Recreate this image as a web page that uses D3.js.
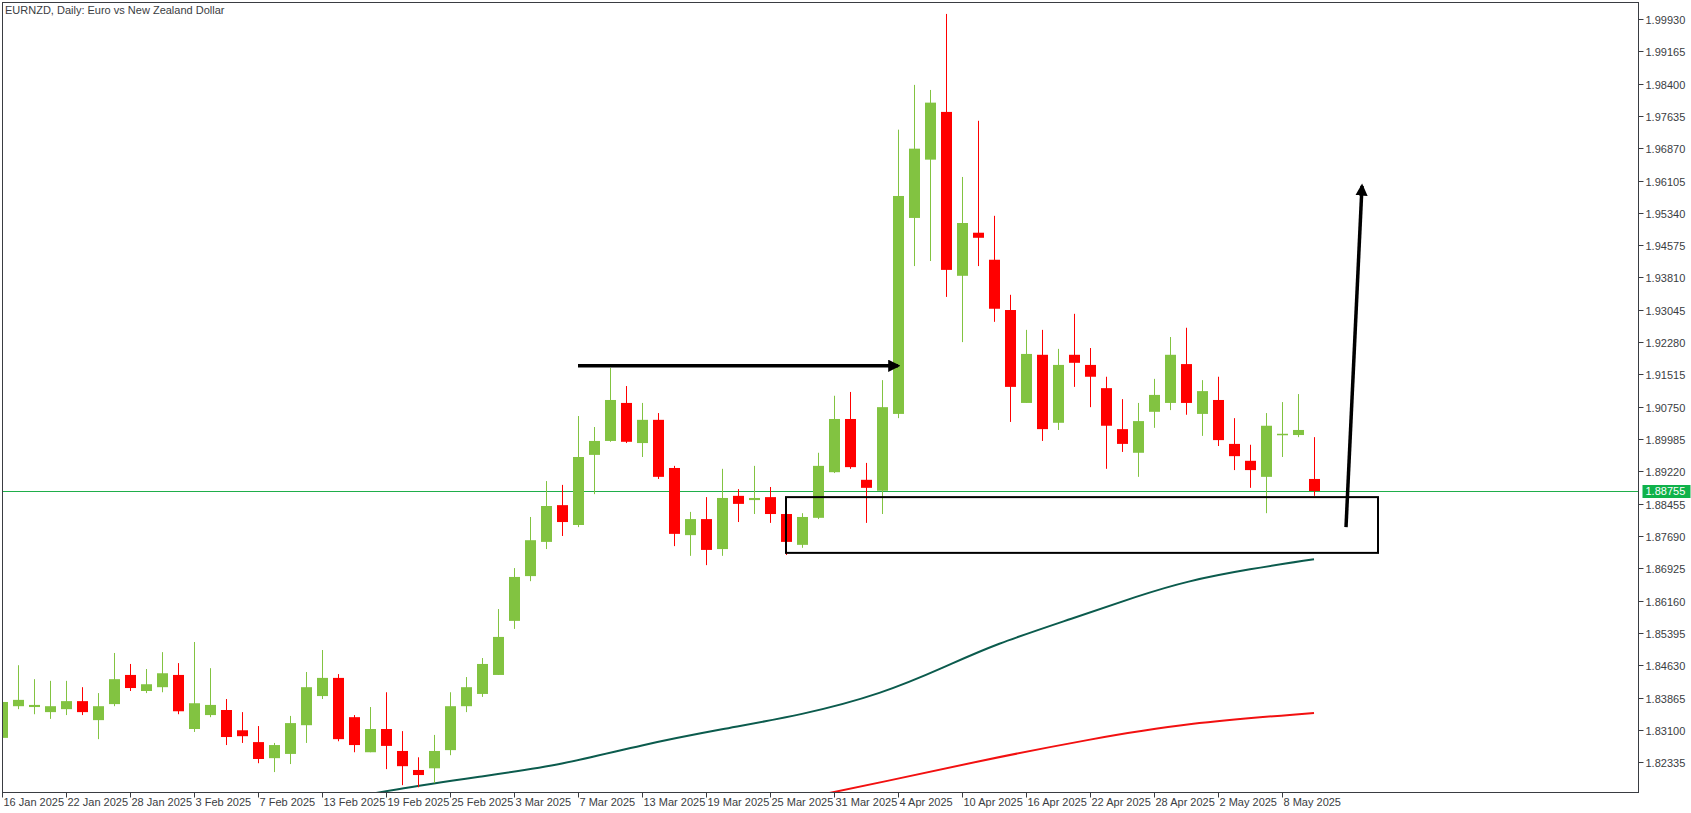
<!DOCTYPE html>
<html>
<head>
<meta charset="utf-8">
<script src="https://cdn.jsdelivr.net/npm/d3@7"></script>
<style>
  html, body { margin: 0; padding: 0; background: #fff; }
  svg { display: block; }
  text { font-family: "Liberation Sans", Arial, sans-serif; }
</style>
</head>
<body>
<div id="container"></div>
<script>
// EURNZD daily candles, 16 Jan 2025 .. 12 May 2025
// [open, high, low, close]
const candles = [
  [1.8291,1.8381,1.8286,1.8376],[1.8366,1.8463,1.8359,1.8381],[1.8364,1.8430,1.8347,1.8369],[1.8352,1.8426,1.8336,1.8366],
  [1.8359,1.8426,1.8345,1.8378],[1.8378,1.8411,1.8345,1.8352],[1.8333,1.8397,1.8288,1.8366],[1.8371,1.8492,1.8366,1.8430],
  [1.8440,1.8466,1.8402,1.8409],[1.8402,1.8454,1.8397,1.8418],[1.8411,1.8494,1.8399,1.8444],[1.8440,1.8468,1.8347,1.8354],
  [1.8312,1.8518,1.8305,1.8373],[1.8345,1.8456,1.8340,1.8369],[1.8357,1.8383,1.8274,1.8293],[1.8309,1.8352,1.8279,1.8295],
  [1.8281,1.8319,1.8231,1.8241],[1.8243,1.8279,1.8210,1.8274],[1.8253,1.8343,1.8229,1.8326],[1.8321,1.8447,1.8279,1.8411],
  [1.8390,1.8499,1.8383,1.8433],[1.8433,1.8442,1.8283,1.8288],[1.8340,1.8345,1.8257,1.8274],[1.8257,1.8364,1.8257,1.8312],
  [1.8312,1.8399,1.8217,1.8272],[1.8260,1.8307,1.8179,1.8224],[1.8215,1.8245,1.8174,1.8203],[1.8219,1.8298,1.8184,1.8260],
  [1.8262,1.8399,1.8250,1.8366],[1.8366,1.8435,1.8352,1.8411],[1.8395,1.8480,1.8388,1.8466],[1.8440,1.8596,1.8440,1.8530],
  [1.8568,1.8693,1.8549,1.8672],[1.8674,1.8814,1.8662,1.8759],[1.8755,1.8899,1.8738,1.8840],[1.8842,1.8890,1.8769,1.8802],
  [1.8795,1.9053,1.8790,1.8956],[1.8961,1.9027,1.8868,1.8994],[1.8994,1.9167,1.8992,1.9091],[1.9084,1.9124,1.8989,1.8992],
  [1.8989,1.9084,1.8956,1.9044],[1.9044,1.9060,1.8904,1.8909],[1.8930,1.8935,1.8745,1.8774],[1.8771,1.8826,1.8722,1.8809],
  [1.8809,1.8861,1.8700,1.8736],[1.8738,1.8928,1.8722,1.8859],[1.8864,1.8880,1.8802,1.8845],[1.8854,1.8935,1.8821,1.8859],
  [1.8861,1.8885,1.8800,1.8821],[1.8821,1.8821,1.8724,1.8755],[1.8748,1.8823,1.8741,1.8814],[1.8812,1.8966,1.8809,1.8935],
  [1.8920,1.9101,1.8918,1.9046],[1.9046,1.9110,1.8928,1.8932],[1.8902,1.8942,1.8800,1.8883],[1.8876,1.9138,1.8821,1.9074],
  [1.9058,1.9731,1.9048,1.9574],[1.9522,1.9837,1.9408,1.9686],[1.9660,1.9825,1.9420,1.9795],[1.9773,2.0005,1.9335,1.9399],
  [1.9385,1.9619,1.9228,1.9510],[1.9487,1.9752,1.9408,1.9475],[1.9423,1.9527,1.9276,1.9307],[1.9304,1.9340,1.9039,1.9122],
  [1.9084,1.9257,1.9084,1.9200],[1.9198,1.9257,1.8994,1.9022],[1.9037,1.9212,1.9020,1.9174],[1.9198,1.9295,1.9122,1.9179],
  [1.9174,1.9214,1.9074,1.9146],[1.9119,1.9146,1.8928,1.9030],[1.9022,1.9093,1.8968,1.8987],[1.8966,1.9084,1.8909,1.9041],
  [1.9063,1.9141,1.9025,1.9103],[1.9084,1.9240,1.9067,1.9198],[1.9176,1.9262,1.9056,1.9084],[1.9058,1.9138,1.9006,1.9112],
  [1.9091,1.9146,1.8982,1.8996],[1.8987,1.9048,1.8925,1.8958],[1.8947,1.8985,1.8883,1.8925],[1.8909,1.9060,1.8823,1.9030],
  [1.9010,1.9086,1.8956,1.9011],[1.9008,1.9105,1.9003,1.9020],[1.8904,1.9003,1.8864,1.88755]
];

// x-axis labels, one every 4 bars starting at bar 0
const dateLabels = ['16 Jan 2025','22 Jan 2025','28 Jan 2025','3 Feb 2025','7 Feb 2025','13 Feb 2025','19 Feb 2025',
  '25 Feb 2025','3 Mar 2025','7 Mar 2025','13 Mar 2025','19 Mar 2025','25 Mar 2025','31 Mar 2025','4 Apr 2025',
  '10 Apr 2025','16 Apr 2025','22 Apr 2025','28 Apr 2025','2 May 2025','8 May 2025'];

// price axis labels
const priceTicks = [1.99930,1.99165,1.98400,1.97635,1.96870,1.96105,1.95340,1.94575,1.93810,1.93045,1.92280,
  1.91515,1.90750,1.89985,1.89220,1.88455,1.87690,1.86925,1.86160,1.85395,1.84630,1.83865,1.83100,1.82335];

// moving averages, sampled [bar index, value]
const maSlowIdx = [22, 24, 30, 35, 40, 45, 50, 55, 59, 62, 67, 71, 74, 78, 82];
const maSlowVal = [1.8150, 1.8166, 1.8200, 1.8227, 1.8275, 1.8312, 1.8345, 1.8395, 1.8460, 1.8512, 1.8575, 1.8627, 1.8662, 1.8691, 1.8714];
const maRedIdx = [51, 55, 61, 68, 74, 82];
const maRedVal = [1.8155, 1.8186, 1.8236, 1.8288, 1.8326, 1.8350];

const lastPrice = 1.88755;

// drawn objects
const hArrow = { from: 36, to: 56, price: 1.9172 };
const zoneBox = { from: 49, to: 86, top: 1.8861, bottom: 1.8729 };
const upArrow = { from: [84, 1.8790], to: [85, 1.9598] };

//_____ LAYOUT _____
const W = 1691, H = 813;
const plot = { left: 2, top: 2, right: 1638, bottom: 792 };
const barStep = 16, bodyW = 11;

const x = d3.scaleLinear().domain([0, 1]).range([2, 2 + barStep]);
const y = d3.scaleLinear().domain([1.88755, 1.99930]).range([491, 19]);

const svg = d3.select('#container').append('svg')
  .attr('width', W).attr('height', H);

const defs = svg.append('defs');
defs.append('clipPath').attr('id', 'clip')
  .append('rect')
  .attr('x', plot.left).attr('y', plot.top)
  .attr('width', plot.right - plot.left).attr('height', plot.bottom - plot.top);

const g = svg.append('g').attr('clip-path', 'url(#clip)');

const GREEN = '#82c341', RED = '#ff0000';

//_____ LAST PRICE LINE _____
g.append('line')
  .attr('x1', plot.left).attr('x2', plot.right)
  .attr('y1', Math.round(y(lastPrice)) + 0.5).attr('y2', Math.round(y(lastPrice)) + 0.5)
  .attr('stroke', '#1fae4a').attr('stroke-width', 1);

//_____ MOVING AVERAGES _____
const line = d3.line().x(d => x(d[0])).y(d => y(d[1])).curve(d3.curveBasis);
g.append('path')
  .attr('d', line(maSlowIdx.map((d, i) => [d, maSlowVal[i]])))
  .attr('fill', 'none').attr('stroke', '#0b5b4d').attr('stroke-width', 2);
g.append('path')
  .attr('d', line(maRedIdx.map((d, i) => [d, maRedVal[i]])))
  .attr('fill', 'none').attr('stroke', '#f21010').attr('stroke-width', 2);

//_____ CANDLES _____
const c = g.selectAll('.candle').data(candles).enter().append('g').attr('class', 'candle');
c.append('line')
  .attr('x1', (d, i) => x(i) + 0.5).attr('x2', (d, i) => x(i) + 0.5)
  .attr('y1', d => y(d[1])).attr('y2', d => y(d[2]))
  .attr('stroke', d => d[3] >= d[0] ? GREEN : RED).attr('stroke-width', 1);
c.append('rect')
  .attr('x', (d, i) => x(i) - (bodyW - 1) / 2)
  .attr('width', bodyW)
  .attr('y', d => y(Math.max(d[0], d[3])))
  .attr('height', d => Math.max(1.5, Math.abs(y(d[0]) - y(d[3]))))
  .attr('fill', d => d[3] >= d[0] ? GREEN : RED);

//_____ ANNOTATIONS _____
defs.append('marker')
  .attr('id', 'head').attr('viewBox', '0 0 10 10')
  .attr('refX', 8).attr('refY', 5)
  .attr('markerWidth', 3.5).attr('markerHeight', 3.5)
  .attr('orient', 'auto')
  .append('path').attr('d', 'M0,0 L10,5 L0,10 Z').attr('fill', '#000');

g.append('line')
  .attr('x1', x(hArrow.from)).attr('x2', x(hArrow.to))
  .attr('y1', y(hArrow.price)).attr('y2', y(hArrow.price))
  .attr('stroke', '#000').attr('stroke-width', 3.5)
  .attr('marker-end', 'url(#head)');

g.append('rect')
  .attr('x', x(zoneBox.from)).attr('y', y(zoneBox.top))
  .attr('width', x(zoneBox.to) - x(zoneBox.from))
  .attr('height', y(zoneBox.bottom) - y(zoneBox.top))
  .attr('fill', 'none').attr('stroke', '#000').attr('stroke-width', 2);

g.append('line')
  .attr('x1', x(upArrow.from[0])).attr('y1', y(upArrow.from[1]))
  .attr('x2', x(upArrow.to[0])).attr('y2', y(upArrow.to[1]))
  .attr('stroke', '#000').attr('stroke-width', 3.5)
  .attr('marker-end', 'url(#head)');

//_____ FRAME _____
svg.append('rect')
  .attr('x', plot.left + 0.5).attr('y', plot.top + 0.5)
  .attr('width', plot.right - plot.left).attr('height', plot.bottom - plot.top)
  .attr('fill', 'none').attr('stroke', '#3a3d42').attr('stroke-width', 1);

//_____ PRICE AXIS _____
const ya = svg.append('g').attr('transform', `translate(${plot.right + 0.5},0)`);
priceTicks.forEach(p => {
  const yy = Math.round(y(p)) + 0.5;
  ya.append('line').attr('x1', 0).attr('x2', 5).attr('y1', yy).attr('y2', yy).attr('stroke', '#3a3d42');
  ya.append('text').attr('x', 7).attr('y', yy + 4)
    .attr('font-size', 11).attr('fill', '#3a3d42').text(p.toFixed(5));
});
const ly = Math.round(y(lastPrice));
ya.append('rect').attr('x', 4).attr('y', ly - 6).attr('width', 48).attr('height', 13).attr('fill', '#0fb24a');
ya.append('text').attr('x', 7).attr('y', ly + 4)
  .attr('font-size', 11).attr('fill', '#fff').text(lastPrice.toFixed(5));

//_____ DATE AXIS _____
const xa = svg.append('g').attr('transform', `translate(0,${plot.bottom + 0.5})`);
dateLabels.forEach((lbl, k) => {
  const xx = Math.round(x(k * 4)) + 0.5;
  xa.append('line').attr('x1', xx).attr('x2', xx).attr('y1', 0).attr('y2', 5).attr('stroke', '#3a3d42');
  xa.append('text').attr('x', xx + 1).attr('y', 13)
    .attr('font-size', 11).attr('fill', '#3a3d42').text(lbl);
});

//_____ TITLE _____
svg.append('text').attr('x', 5).attr('y', 14)
  .attr('font-size', 11).attr('fill', '#3a3d42')
  .text('EURNZD, Daily:  Euro vs New Zealand Dollar');
</script>
</body>
</html>
